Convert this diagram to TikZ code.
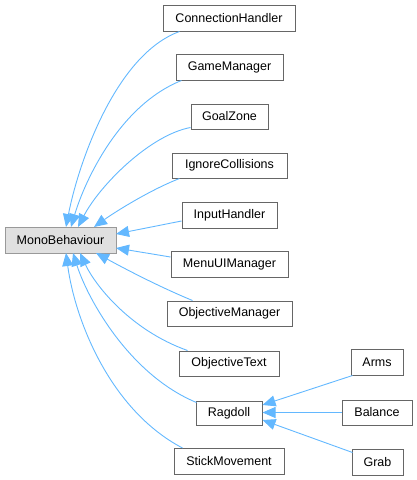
\documentclass[tikz,border=0pt]{standalone}
\usepackage{fontspec}
\setmainfont{Liberation Sans}
\usetikzlibrary{arrows.meta}
\definecolor{edgeblue}{HTML}{63B8FF}
\definecolor{boxgray}{HTML}{666666}
\definecolor{rootfill}{HTML}{E0E0E0}
\definecolor{rootdraw}{HTML}{999999}
\begin{document}
\begin{tikzpicture}[x=1pt,y=-1pt,
  cls/.style={draw=boxgray,fill=white,line width=1pt,inner sep=0pt,minimum height=25pt,font=\fontsize{12.5}{15}\selectfont},
  root/.style={cls,draw=rootdraw,fill=rootfill},
  inh/.style={draw=edgeblue,line width=0.9pt,-{Triangle[length=13pt,width=11pt]}}]
\useasboundingbox (0,0) rectangle (417,480);
\node[root,minimum width=111pt,minimum height=26pt] (mono) at (60.5,240) {MonoBehaviour};
\node[cls,minimum width=132pt,minimum height=26pt] (conn) at (229,18) {ConnectionHandler};
\node[cls,minimum width=107pt,minimum height=26pt] (game) at (229.5,67) {GameManager};
\node[cls,minimum width=77pt] (goal) at (229.5,116.5) {GoalZone};
\node[cls,minimum width=115pt] (ign) at (229.5,165.5) {IgnoreCollisions};
\node[cls,minimum width=95pt,minimum height=26pt] (inp) at (229.5,215) {InputHandler};
\node[cls,minimum width=117pt,minimum height=26pt] (menu) at (229.5,264) {MenuUIManager};
\node[cls,minimum width=125pt] (objm) at (229.5,313.5) {ObjectiveManager};
\node[cls,minimum width=100pt] (objt) at (229,363.5) {ObjectiveText};
\node[cls,minimum width=66pt,minimum height=24pt] (rag) at (229,413) {Ragdoll};
\node[cls,minimum width=110pt,minimum height=26pt] (stick) at (229,461.5) {StickMovement};
\node[cls,minimum width=52pt,minimum height=26pt] (arms) at (377,362) {Arms};
\node[cls,minimum width=70pt] (bal) at (377,412.5) {Balance};
\node[cls,minimum width=51pt,minimum height=26pt] (grab) at (377.5,462) {Grab};
% edges to MonoBehaviour
\coordinate (t1) at (66,227);
\coordinate (t2) at (71,227);
\coordinate (t3) at (78,227);
\coordinate (t4) at (94,227);
\coordinate (t5) at (116,234);
\coordinate (t6) at (116,248);
\coordinate (b1) at (96,253);
\coordinate (b2) at (80,253);
\coordinate (b3) at (73,253);
\coordinate (b4) at (66,253);
\draw[inh] ([xshift=17pt]conn.south west) .. controls (115,55) and (78,165) .. (t1);
\draw[inh] ([xshift=6pt]game.south west) .. controls (120,105) and (85,180) .. (t2);
\draw[inh] ([yshift=2pt]goal.south west) .. controls (150,135) and (100,185) .. (t3);
\draw[inh] ([xshift=8pt]ign.south west) .. controls (150,190) and (115,212) .. (t4);
\draw[inh] ([yshift=-6pt]inp.west) -- (t5);
\draw[inh] ([yshift=7pt]menu.west) -- (t6);
\draw[inh] ([xshift=26pt]objm.north west) .. controls (155,285) and (118,265) .. (b1);
\draw[inh] ([xshift=9pt]objt.north west) .. controls (130,330) and (95,285) .. (b2);
\draw[inh] ([xshift=1pt,yshift=-2pt]rag.north west) .. controls (130,375) and (88,300) .. (b3);
\draw[inh] ([xshift=9pt]stick.north west) .. controls (110,410) and (75,320) .. (b4);
% edges to Ragdoll
\draw[inh] ([xshift=2pt]arms.south west) -- ([yshift=8pt]rag.east);
\draw[inh] (bal.west) -- ([yshift=0.5pt]rag.east);
\draw[inh] ([xshift=1pt,yshift=-4pt]grab.north west) -- ([yshift=-7pt]rag.east);
\end{tikzpicture}
\end{document}
